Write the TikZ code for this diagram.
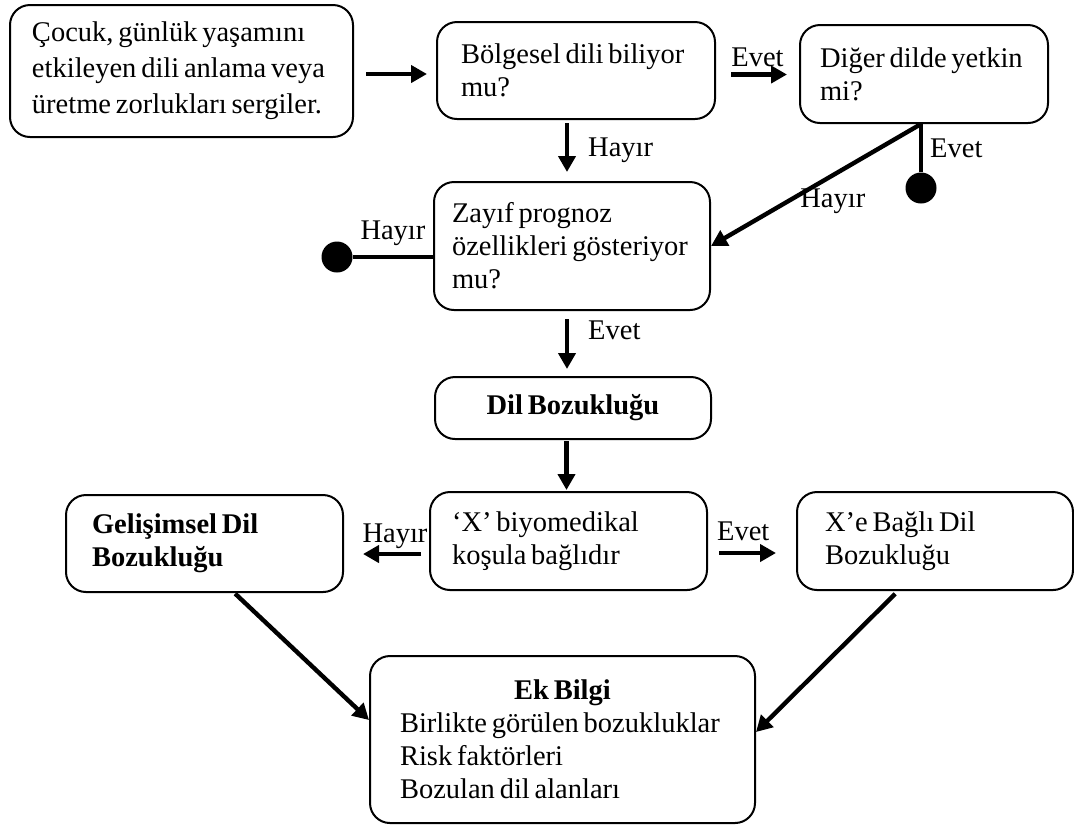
\documentclass[tikz,border=0pt]{standalone}
\usepackage{fontspec}
\setmainfont{Liberation Serif}
\usepackage{tikz}
\usetikzlibrary{arrows.meta}

\begin{document}
\begin{tikzpicture}[x=0.5pt, y=-0.5pt,
		every node/.style={font=\fontsize{14.25pt}{16.5pt}\selectfont, execute at begin node={\spaceskip=2.4pt\relax}},
		box/.style={rectangle, draw, line width=1pt, rounded corners=10pt, align=left, inner xsep=0pt, inner ysep=0pt},
		arr/.style={line width=2.2pt, -{Triangle[length=8pt, width=8.5pt]}},
		link/.style={line width=2.2pt},
		dot/.style={circle, fill, inner sep=0pt, minimum size=15.5pt},
		lbl/.style={inner sep=1.5pt}]
		\useasboundingbox (0,0) rectangle (1074,827);
		
		% kutular
		\node[box, minimum width=171.5pt, minimum height=66pt, text width=149.5pt, font=\fontsize{14.25pt}{18pt}\selectfont] (cocuk) at (181.5,71) {Çocuk, günlük yaşamını\\etkileyen dili anlama veya\\üretme zorlukları sergiler.};
		\node[box, minimum width=139pt, minimum height=48.5pt, text width=115pt] (bolgesel) at (576,70.5) {Bölgesel dili biliyor\\mu?};
		\node[box, minimum width=124pt, minimum height=49pt, text width=104pt] (diger) at (924,74) {Diğer dilde yetkin\\mi?};
		\node[box, minimum width=138pt, minimum height=64pt, text width=120pt] (zayif) at (572,246) {Zayıf prognoz\\özellikleri gösteriyor\\mu?};
		\node[box, minimum width=138pt, minimum height=31pt, align=center] (dilboz) at (573,408) {\textbf{Dil Bozukluğu}};
		\node[box, minimum width=138.5pt, minimum height=49pt, text width=116.5pt] (biyomed) at (568.5,541) {‘X’ biyomedikal\\koşula bağlıdır};
		\node[box, minimum width=138.5pt, minimum height=48.5pt, text width=112.5pt] (gelisim) at (204.5,543.5) {\textbf{Gelişimsel Dil}\\\textbf{Bozukluğu}};
		\node[box, minimum width=138pt, minimum height=49pt, text width=110pt] (xbagli) at (935,541) {X’e Bağlı Dil\\Bozukluğu};
		\node[box, minimum width=192.5pt, minimum height=83.5pt, text width=162.5pt] (ekbilgi) at (562.5,739.5) {\makebox[162.5pt]{\textbf{Ek Bilgi}}\\Birlikte görülen bozukluklar\\Risk faktörleri\\Bozulan dil alanları};
		
		\node[dot] (dotevet) at (921,188) {};
		\node[dot] (dothayir) at (337,257) {};
		\coordinate (dg) at ([xshift=-1.5pt]diger.south);
		
		% oklar
		\draw[arr, shorten <=6pt, shorten >=4.5pt] ([yshift=-1.5pt]cocuk.east) -- ([yshift=-1.5pt]cocuk.east -| bolgesel.west);
		\draw[arr, shorten <=7.5pt, shorten >=6pt] ([yshift=-2pt]bolgesel.east) -- ([yshift=-2pt]bolgesel.east -| diger.west) node[lbl, above, midway, yshift=1.5pt] {Evet};
		\draw[arr, shorten <=1.5pt, shorten >=4.5pt] ([xshift=-4.5pt]bolgesel.south) -- ([xshift=-4.5pt]bolgesel.south |- zayif.north) node[lbl, right, midway, xshift=8pt] {Hayır};
		\draw[arr] (dg) -- (zayif.east) node[lbl, pos=0.42, below, yshift=-4pt] {Hayır};
		\draw[link] (dg) -- (dotevet) node[lbl, right, midway, xshift=2pt] {Evet};
		\draw[link] ([yshift=-5.5pt]zayif.west) -- (dothayir) node[lbl, above, midway, yshift=3pt] {Hayır};
		\draw[arr, shorten <=4pt, shorten >=3.5pt] ([xshift=-2.5pt]zayif.south) -- ([xshift=-2.5pt]zayif.south |- dilboz.north) node[lbl, right, pos=0.3, xshift=8pt] {Evet};
		\draw[arr, shorten <=0.5pt, shorten >=0.5pt] ([xshift=-1pt]biyomed.north |- dilboz.south) -- ([xshift=-1pt]biyomed.north);
		\draw[arr, shorten <=4pt, shorten >=9.5pt] ([yshift=-6.5pt]biyomed.west) -- ([yshift=-6.5pt]biyomed.west -| gelisim.east) node[lbl, above, pos=0.4] {Hayır};
		\draw[arr, shorten <=5.5pt, shorten >=10pt] ([yshift=-6pt]biyomed.east) -- ([yshift=-6pt]biyomed.east -| xbagli.west) node[lbl, above, pos=0.4, yshift=3.5pt] {Evet};
		\draw[arr, shorten <=0.5pt] ([xshift=15pt]gelisim.south) -- ([yshift=9.75pt]ekbilgi.west);
		\draw[arr, shorten <=2pt] ([xshift=-18.5pt]xbagli.south) -- ([yshift=3.75pt]ekbilgi.east);
		\end{tikzpicture}
\end{document}
